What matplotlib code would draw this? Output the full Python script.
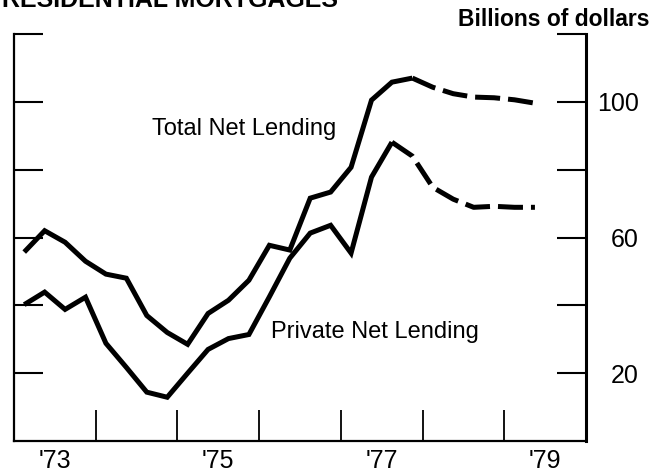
import matplotlib
matplotlib.use("Agg")
import matplotlib.pyplot as plt
from matplotlib.ticker import FixedLocator, FixedFormatter

plt.rcParams['font.family'] = ['Liberation Sans', 'DejaVu Sans']

# Quarterly observations (plotted at quarter midpoints), 1973Q1 ... 1979Q2
years = [1973 + i // 4 for i in range(26)]
quarters = [i % 4 + 1 for i in range(26)]
dates = [y + (q - 1) * 0.25 + 0.125 for y, q in zip(years, quarters)]

# Billions of dollars, seasonally adjusted annual rates
total_actual = [55.7, 62.0, 58.6, 53.0, 49.2, 48.0, 37.0, 32.0, 28.5, 37.6,
                41.5, 47.4, 57.7, 56.3, 71.6, 73.4, 80.7, 100.5, 105.8, 107.0]
total_proj = [107.0, 104.3, 102.4, 101.4, 101.2, 100.6, 99.6]
private_actual = [40.2, 43.9, 38.8, 42.4, 28.8, 21.7, 14.4, 12.9, 20.0, 27.0,
                  30.2, 31.4, 42.5, 53.9, 61.3, 63.6, 55.4, 77.8, 88.1]
private_proj = [88.1, 84.0, 74.8, 71.3, 68.9, 69.2, 68.9, 68.9]

y_ticks = [20, 40, 60, 80, 100, 120]
y_labels = ['20', '', '60', '', '100', '']
x_bounds = [1974, 1975, 1976, 1977, 1978, 1979]
x_label_pos = [1973.5, 1975.5, 1977.5, 1979.5]
x_labels = ["'73", "'75", "'77", "'79"]

fig = plt.figure(figsize=(6.55, 4.76), dpi=100)
ax = fig.add_axes([14 / 655, 35 / 476, (586 - 14) / 655, (442 - 35) / 476])

lw = 3.6
n_t = len(total_actual)
n_p = len(private_actual)
ax.plot(dates[:n_t], total_actual, color='black', lw=lw, solid_joinstyle='miter',
        solid_capstyle='butt')
ax.plot(dates[n_t - 1:n_t - 1 + len(total_proj)], total_proj, color='black', lw=lw,
        dashes=(5, 1.6), dash_capstyle='butt')
ax.plot(dates[:n_p], private_actual, color='black', lw=lw, solid_joinstyle='miter',
        solid_capstyle='butt')
ax.plot(dates[n_p - 1:n_p - 1 + len(private_proj)], private_proj, color='black', lw=lw,
        dashes=(5, 1.6), dash_capstyle='butt')

ax.set_xlim(1973, 1980)
ax.set_ylim(0, 120)

for s in ['left', 'bottom']:
    ax.spines[s].set_linewidth(1.6)
ax.spines['right'].set_linewidth(2.2)
ax.spines['top'].set_visible(False)

# y ticks on both sides, inward; labels on the right only
ax.yaxis.set_major_locator(FixedLocator(y_ticks))
ax.yaxis.set_major_formatter(FixedFormatter(y_labels))
ax.tick_params(axis='y', which='major', direction='in', length=21, width=1.5,
               left=True, right=True, labelleft=False, labelright=True,
               labelsize=18, pad=38)
for lab in ax.get_yticklabels():
    lab.set_horizontalalignment('right')

# x: year-boundary ticks upward, labels centred in years
ax.xaxis.set_major_locator(FixedLocator(x_bounds))
ax.xaxis.set_major_formatter(FixedFormatter([''] * len(x_bounds)))
ax.xaxis.set_minor_locator(FixedLocator(x_label_pos))
ax.xaxis.set_minor_formatter(FixedFormatter(x_labels))
ax.tick_params(axis='x', which='major', direction='in', length=22, width=1.3)
ax.tick_params(axis='x', which='minor', length=0, labelsize=18, pad=6)

ax.text(1974.69, 90.3, 'Total Net Lending', fontsize=17, ha='left', va='baseline')
ax.text(1976.15, 30.4, 'Private Net Lending', fontsize=17, ha='left', va='baseline')

fig.text(650 / 655, 1 - 20 / 476, 'Billions of dollars', fontsize=16.5, fontweight='bold',
         ha='right', va='center')
fig.text(2 / 655, 1 - 7 / 476, 'RESIDENTIAL MORTGAGES', fontsize=18, fontweight='bold',
         ha='left', va='baseline')

fig.savefig('out.png', dpi=100)
